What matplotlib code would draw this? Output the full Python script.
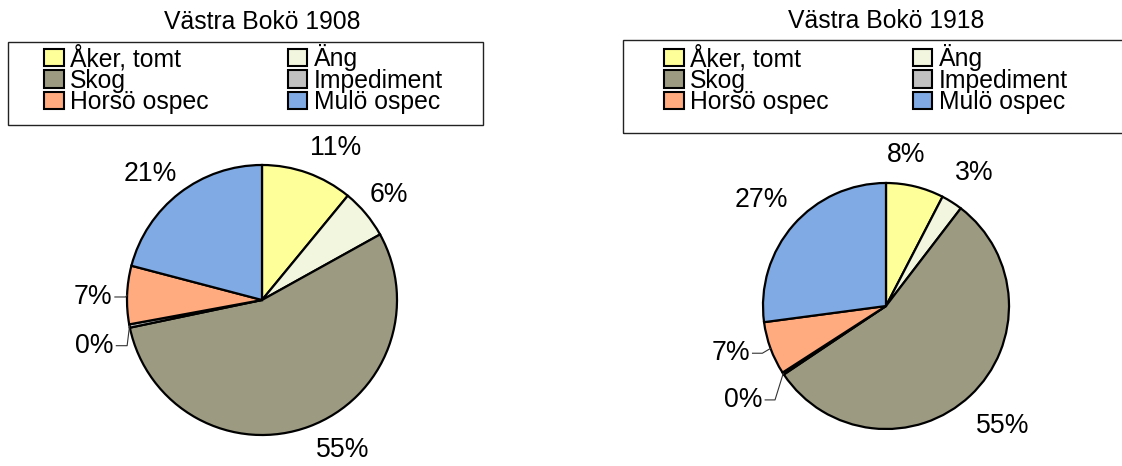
import numpy as np
import matplotlib
matplotlib.use("Agg")
import matplotlib.pyplot as plt
from matplotlib.patches import Rectangle, Patch

plt.rcParams["font.family"] = ["Liberation Sans", "DejaVu Sans"]

# data
categories = ["Åker, tomt", "Äng", "Skog", "Impediment", "Horsö ospec", "Mulö ospec"]
titles = ["Västra Bokö 1908", "Västra Bokö 1918"]
share_1908 = [11.0, 6.0, 55.0, 0.4, 7.0, 21.0]
share_1918 = [7.6, 2.8, 55.2, 0.3, 7.0, 27.1]

colors = ["#FFFF99", "#F2F6DE", "#9C9B82", "#C0C0C0", "#FFAA7F", "#7FAAE3"]

# label placement per slice: (distance, angle offset deg, leader line)
place_1908 = [(1.25, -6, False), (1.22, 0, False), (1.26, 8, False),
              (1.15, 6, True), (1.11, 1, True), (1.25, 4, False)]
place_1918 = [(1.24, 6, False), (1.30, -1, False), (1.36, 1, False),
              (1.26, 4, True), (1.17, -1, True), (1.33, 1, False)]

W, H = 1122, 466
fig = plt.figure(figsize=(W / 100, H / 100), dpi=100)


def pie_axes(cx, cy, r):
    s = 3 * r
    ax = fig.add_axes([(cx - s / 2) / W, (H - cy - s / 2) / H, s / W, s / H])
    return ax


def draw_pie(ax, vals, place):
    wedges, _ = ax.pie(vals, colors=colors, startangle=90, counterclock=False,
                       wedgeprops=dict(edgecolor="black", linewidth=1.6),
                       radius=1.0)
    ax.set_xlim(-1.5, 1.5)
    ax.set_ylim(-1.5, 1.5)
    ax.set_aspect("equal")
    ax.axis("off")
    total = sum(vals)
    for w, v, (d, off, leader) in zip(wedges, vals, place):
        mid = np.deg2rad((w.theta1 + w.theta2) / 2)
        ang = mid + np.deg2rad(off)
        tx, ty = d * np.cos(ang), d * np.sin(ang)
        txt = "%d%%" % round(100 * v / total)
        if leader:
            px, py = np.cos(mid), np.sin(mid)
            ax.plot([tx + 0.02, tx + 0.1, px], [ty, ty, py], color="#333333",
                    lw=0.8, clip_on=False)
            ax.text(tx, ty, txt, ha="right", va="center", fontsize=19.2)
        else:
            ax.text(tx, ty, txt, ha="center", va="center", fontsize=19.2)


def draw_legend(x0, y0, x1, y1, hx, ty, colsp):
    fig.patches.append(Rectangle((x0 / W, 1 - y1 / H), (x1 - x0) / W, (y1 - y0) / H,
                                 transform=fig.transFigure, fill=False,
                                 edgecolor="#222222", lw=1.0))
    handles = [Patch(facecolor=c, edgecolor="black", lw=1.5) for c in colors]
    # legend fills column by column; reorder so that entries run row-wise
    order = [0, 2, 4, 1, 3, 5]
    fig.legend([handles[i] for i in order], [categories[i] for i in order],
               ncol=2, loc="upper left",
               bbox_to_anchor=(hx / W, 1 - ty / H), frameon=False,
               fontsize=17.8, borderpad=0, borderaxespad=0, labelspacing=-0.1,
               handlelength=0.8, handleheight=0.7, handletextpad=0.25,
               columnspacing=colsp)


ax1 = pie_axes(262, 300, 135)
draw_pie(ax1, share_1908, place_1908)
ax2 = pie_axes(886, 306, 123)
draw_pie(ax2, share_1918, place_1918)

fig.text(262 / W, 1 - 22 / H, titles[0], ha="center", va="center", fontsize=17.8)
fig.text(886 / W, 1 - 21 / H, titles[1], ha="center", va="center", fontsize=17.8)

draw_legend(8, 42, 483, 125, 44, 44, 3.2)
draw_legend(623, 40, 1125, 133, 664, 44, 3.4)

fig.savefig("out.png", dpi=100)
